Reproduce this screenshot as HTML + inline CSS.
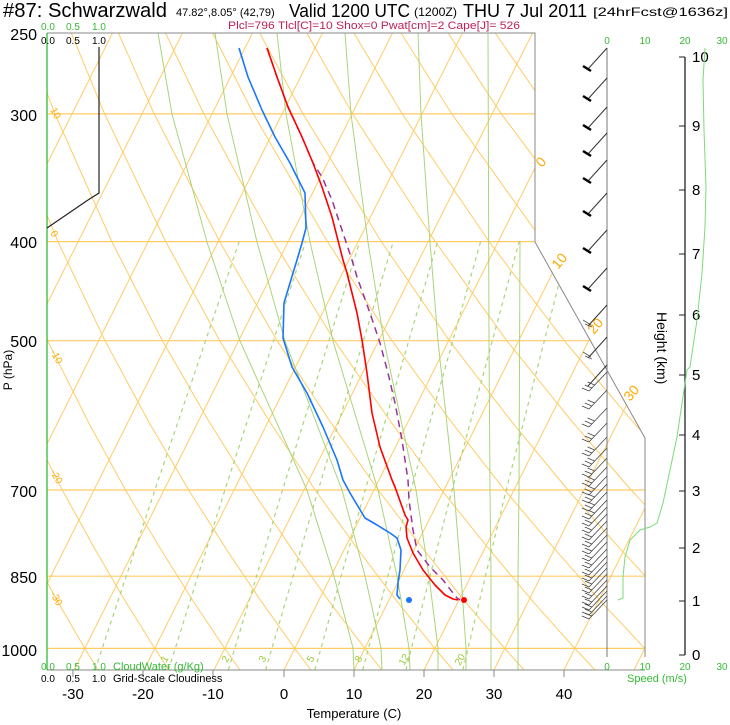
<!DOCTYPE html>
<html><head><meta charset="utf-8">
<style>
html,body{margin:0;padding:0;background:#fff;}
svg{display:block;font-family:"Liberation Sans",Arial,sans-serif;}
</style></head>
<body>
<svg width="730" height="725" viewBox="0 0 730 725" xmlns="http://www.w3.org/2000/svg">
<defs>
<clipPath id="cp"><polygon points="47,33 535,33 535,242 645,438 645,670 47,670"/></clipPath>
</defs>
<g clip-path="url(#cp)" fill="none">
<g stroke="#ffcc66" stroke-width="1.2">
<line x1="47" y1="113.9" x2="645" y2="113.9"/><line x1="47" y1="241.6" x2="645" y2="241.6"/><line x1="47" y1="340.7" x2="645" y2="340.7"/><line x1="47" y1="490" x2="645" y2="490"/><line x1="47" y1="576.2" x2="645" y2="576.2"/><line x1="47" y1="648.4" x2="645" y2="648.4"/>
</g>
<g stroke="#ffcc66" stroke-width="1">
<line x1="-556" y1="670" x2="-237.5" y2="33"/><line x1="-486" y1="670" x2="-167.5" y2="33"/><line x1="-416" y1="670" x2="-97.5" y2="33"/><line x1="-346" y1="670" x2="-27.5" y2="33"/><line x1="-276" y1="670" x2="42.5" y2="33"/><line x1="-206" y1="670" x2="112.5" y2="33"/><line x1="-136" y1="670" x2="182.5" y2="33"/><line x1="-66" y1="670" x2="252.5" y2="33"/><line x1="4" y1="670" x2="322.5" y2="33"/><line x1="74" y1="670" x2="392.5" y2="33"/><line x1="144" y1="670" x2="462.5" y2="33"/><line x1="214" y1="670" x2="532.5" y2="33"/><line x1="284" y1="670" x2="602.5" y2="33"/><line x1="354" y1="670" x2="672.5" y2="33"/><line x1="424" y1="670" x2="742.5" y2="33"/><line x1="494" y1="670" x2="812.5" y2="33"/><line x1="564" y1="670" x2="882.5" y2="33"/><line x1="634" y1="670" x2="952.5" y2="33"/>
</g>
<g stroke="#ffcc66" stroke-width="1">
<polyline points="97.9,670 84.8,648.4 57.7,601.6 29.3,549.3 -0.9,490 -32.9,421.6"/>
<polyline points="168.9,670 154.8,648.4 125.6,601.6 95,549.3 62.3,490 27.6,421.6 -9.8,340.7 -49.9,241.6"/>
<polyline points="239.9,670 224.8,648.4 193.5,601.6 160.7,549.3 125.5,490 88.1,421.6 47.6,340.7 4,241.6 -44.2,113.9"/>
<polyline points="310.9,670 294.8,648.4 261.4,601.6 226.4,549.3 188.7,490 148.6,421.6 105,340.7 57.9,241.6 5.4,113.9 -22.9,33"/>
<polyline points="381.9,670 364.8,648.4 329.3,601.6 292.1,549.3 251.9,490 209.1,421.6 162.4,340.7 111.8,241.6 55,113.9 24.2,33"/>
<polyline points="452.9,670 434.8,648.4 397.2,601.6 357.8,549.3 315.1,490 269.6,421.6 219.8,340.7 165.7,241.6 104.6,113.9 71.3,33"/>
<polyline points="523.9,670 504.8,648.4 465.1,601.6 423.5,549.3 378.3,490 330.1,421.6 277.2,340.7 219.6,241.6 154.2,113.9 118.4,33"/>
<polyline points="594.9,670 574.8,648.4 533,601.6 489.2,549.3 441.5,490 390.6,421.6 334.6,340.7 273.5,241.6 203.8,113.9 165.5,33"/>
<polyline points="665.9,670 644.8,648.4 600.9,601.6 554.9,549.3 504.7,490 451.1,421.6 392,340.7 327.4,241.6 253.4,113.9 212.6,33"/>
<polyline points="736.9,670 714.8,648.4 668.8,601.6 620.6,549.3 567.9,490 511.6,421.6 449.4,340.7 381.3,241.6 303,113.9 259.7,33"/>
<polyline points="807.9,670 784.8,648.4 736.7,601.6 686.3,549.3 631.1,490 572.1,421.6 506.8,340.7 435.2,241.6 352.6,113.9 306.8,33"/>
<polyline points="878.9,670 854.8,648.4 804.6,601.6 752,549.3 694.3,490 632.6,421.6 564.2,340.7 489.1,241.6 402.2,113.9 353.9,33"/>
<polyline points="949.9,670 924.8,648.4 872.5,601.6 817.7,549.3 757.5,490 693.1,421.6 621.6,340.7 543,241.6 451.8,113.9 401,33"/>
<polyline points="1020.9,670 994.8,648.4 940.4,601.6 883.4,549.3 820.7,490 753.6,421.6 679,340.7 596.9,241.6 501.4,113.9 448.1,33"/>
<polyline points="1091.9,670 1064.8,648.4 1008.3,601.6 949.1,549.3 883.9,490 814.1,421.6 736.4,340.7 650.8,241.6 551,113.9 495.2,33"/>
</g>
<!-- moist adiabats -->
<g stroke="#aad47a" stroke-width="1">
<polyline points="354,670 353,648 334,576 307,490 240,341 207,242 172,114 158,33"/>
<polyline points="382,670 381,648 365,576 342,490 285,341 257,242 227,114 215,33"/>
<polyline points="410,670 409,648 397,576 378,490 333,341 310,242 286,114 277,33"/>
<polyline points="438,670 438,648 429,576 416,490 384,341 368,242 351,114 345,33"/>
<polyline points="466,670 466,648 461,576 454,490 438,341 430,242 421,114 418,33"/>
<polyline points="491,670 491,576 490,490 489,341 488,33"/>
<polyline points="518,670 518,576 519,490 520,241"/>
</g>
<g stroke="#aad47a" stroke-width="1.2" stroke-dasharray="4,4">
<polyline points="95,670 154.9,490 239.2,241.6"/>
<polyline points="168.5,670 224.9,490 305.7,241.6"/>
<polyline points="228.3,670 282.5,490 359.7,241.6"/>
<polyline points="265.6,670 318.2,490 393.3,241.6"/>
<polyline points="314.9,670 365.2,490 437.7,241.6"/>
<polyline points="362.7,670 410.9,490 480.6,241.6"/>
<polyline points="405.9,670 452.1,490 519.1,241.6"/>
<polyline points="462.8,670 506.2,490 569.7,241.6"/>
</g>
</g>
<polyline points="47,33 535,33 535,242 645,438 645,657" fill="none" stroke="#888" stroke-width="1"/>
<line x1="47" y1="670" x2="645" y2="670" stroke="#888" stroke-width="1"/>
<line x1="47" y1="33" x2="47" y2="670" stroke="#33bb33" stroke-width="1.3"/>
<line x1="607" y1="48" x2="607" y2="657" stroke="#777" stroke-width="1"/>
<line x1="685" y1="57" x2="685" y2="655" stroke="#222" stroke-width="1.3"/>
<g stroke="#888"><line x1="73" y1="670" x2="73" y2="677"/><line x1="143" y1="670" x2="143" y2="677"/><line x1="213" y1="670" x2="213" y2="677"/><line x1="284" y1="670" x2="284" y2="677"/><line x1="354" y1="670" x2="354" y2="677"/><line x1="424" y1="670" x2="424" y2="677"/><line x1="494" y1="670" x2="494" y2="677"/><line x1="564" y1="670" x2="564" y2="677"/></g>
<polyline points="99,47 99,193 88,200 47,228" fill="none" stroke="#222" stroke-width="1.2"/>
<g font-size="10" fill="#99cc33">
<text transform="translate(166,663) rotate(-60)">1</text><text transform="translate(227,663) rotate(-60)">2</text><text transform="translate(264,663) rotate(-60)">3</text><text transform="translate(312,663) rotate(-60)">5</text><text transform="translate(360,663) rotate(-60)">8</text><text transform="translate(404,666) rotate(-60)">12</text><text transform="translate(460,666) rotate(-60)">20</text>
</g>
<g font-size="10" fill="#ffaa00">
<text transform="translate(50,110) rotate(60)">10</text><text transform="translate(50,233) rotate(60)">0</text><text transform="translate(50,352) rotate(60)">-10</text><text transform="translate(50,472) rotate(60)">-20</text><text transform="translate(50,594) rotate(60)">-30</text>
</g>
<g font-size="14" fill="#ffaa00">
<text transform="translate(542,168) rotate(-50)">0</text><text transform="translate(558,270) rotate(-50)">10</text><text transform="translate(594,335) rotate(-50)">20</text><text transform="translate(630,402) rotate(-50)">30</text>
</g>
<g stroke="#333" stroke-width="1">
<line x1="607" y1="48" x2="588" y2="69"/><line x1="607" y1="78" x2="588" y2="99"/><line x1="607" y1="107" x2="588" y2="128"/><line x1="607" y1="133" x2="588" y2="154"/><line x1="607" y1="160" x2="588" y2="181"/><line x1="607" y1="193" x2="588" y2="214"/><line x1="607" y1="230" x2="588" y2="251"/><line x1="607" y1="268" x2="588" y2="289"/><line x1="607" y1="305" x2="588" y2="326"/><line x1="607" y1="337" x2="588" y2="358"/><line x1="607" y1="365" x2="588" y2="386"/>
</g>
<g stroke="#000" stroke-width="2.5">
<line x1="583" y1="66" x2="591" y2="71"/><line x1="583" y1="96" x2="591" y2="101"/><line x1="583" y1="125" x2="591" y2="130"/><line x1="583" y1="151" x2="591" y2="156"/><line x1="583" y1="178" x2="591" y2="183"/><line x1="583" y1="211" x2="591" y2="216"/><line x1="583" y1="248" x2="591" y2="253"/><line x1="583" y1="286" x2="591" y2="291"/>
</g>
<g stroke="#555" stroke-width="0.8">
<line x1="583" y1="320" x2="591" y2="325"/><line x1="585" y1="324" x2="592" y2="327"/>
<line x1="583" y1="352" x2="591" y2="357"/><line x1="585" y1="356" x2="592" y2="359"/>
</g>
<g stroke="#444" stroke-width="0.8" fill="none">
<path d="M607 372L589 391M589 391l-7 -3M591.8 388l-7 -3M594.6 385l-7 -3"/>
<path d="M607 390L589 409M589 409l-7 -3M591.8 406l-7 -3M594.6 403l-7 -3"/>
<path d="M607 408L589 427M589 427l-7 -3M591.8 424l-7 -3M594.6 421l-7 -3"/>
<path d="M607 423L589 442M589 442l-7 -3M591.8 439l-7 -3M594.6 436l-7 -3"/>
<path d="M607 437L589 456M589 456l-7 -3M591.8 453l-7 -3M594.6 450l-7 -3"/>
<path d="M607 448L589 467M589 467l-7 -3M591.8 464l-7 -3M594.6 461l-7 -3"/>
<path d="M607 458L589 477M589 477l-7 -3M591.8 474l-7 -3M594.6 471l-7 -3"/>
<path d="M607 467L589 486M589 486l-7 -3M591.8 483l-7 -3M594.6 480l-7 -3"/>
<path d="M607 476L589 495M589 495l-7 -3M591.8 492l-7 -3M594.6 489l-7 -3"/>
<path d="M607 484L589 503M589 503l-7 -3M591.8 500l-7 -3M594.6 497l-7 -3"/>
<path d="M607 492L589 511M589 511l-7 -3M591.8 508l-7 -3M594.6 505l-7 -3"/>
<path d="M607 500L589 519M589 519l-7 -3M591.8 516l-7 -3M594.6 513l-7 -3"/>
<path d="M607 507L589 526M589 526l-7 -3M591.8 523l-7 -3"/>
<path d="M607 514L589 533M589 533l-7 -3M591.8 530l-7 -3"/>
<path d="M607 521L589 540M589 540l-7 -3M591.8 537l-7 -3"/>
<path d="M607 528L589 547M589 547l-7 -3M591.8 544l-7 -3"/>
<path d="M607 535L589 554M589 554l-7 -3M591.8 551l-7 -3"/>
<path d="M607 542L589 561M589 561l-7 -3M591.8 558l-7 -3"/>
<path d="M607 549L589 568M589 568l-7 -3M591.8 565l-7 -3"/>
<path d="M607 556L589 575M589 575l-7 -3M591.8 572l-7 -3"/>
<path d="M607 562L589 581M589 581l-7 -3M591.8 578l-7 -3"/>
<path d="M607 568L589 587M589 587l-7 -3M591.8 584l-7 -3"/>
<path d="M607 574L589 593M589 593l-7 -3M591.8 590l-7 -3"/>
<path d="M607 580L589 599M589 599l-7 -3M591.8 596l-7 -3"/>
<path d="M607 586L589 605M589 605l-7 -3M591.8 602l-7 -3"/>
<path d="M607 591L589 610M589 610l-7 -3M591.8 607l-7 -3"/>
<path d="M607 596L589 615M589 615l-7 -3M591.8 612l-7 -3"/>
<path d="M607 600L589 619M589 619l-7 -3M591.8 616l-7 -3"/>
</g>
<g fill="none" stroke-linejoin="round">
<polyline stroke="#993399" stroke-width="1.5" stroke-dasharray="7,5" points="267,48 277,77 288,107 302,137 313,163 322,177 332,200 342,230 352,260 357,277 370,313 380,343 388,373 395,403 402,440 408,480 409,500 413,530 417,550 430,567 443,580 453,593 457,598 460,600"/>
<polyline stroke="#ff0000" stroke-width="1.6" points="267,48 277,77 288,107 302,137 313,163 322,187 332,217 343,260 347,273 357,313 362,340 367,373 372,413 380,447 392,480 395,487 405,515 408,520 406,527 407,538 413,553 423,570 435,585 445,595 453,599 458,600"/>
<polyline stroke="#1a75ff" stroke-width="1.6" points="239,48 248,77 262,110 275,137 290,163 305,193 306,228 302,243 297,260 293,273 284,303 283,338 292,367 307,393 323,427 337,460 343,480 350,493 365,518 377,525 390,533 397,538 401,550 400,570 398,583 397,595 400,599"/>
</g>
<circle cx="464" cy="600" r="3" fill="#ff0000"/>
<circle cx="409" cy="600" r="3" fill="#1a75ff"/>
<text x="3" y="17" font-size="20" textLength="164" lengthAdjust="spacingAndGlyphs">#87: Schwarzwald</text>
<text x="176" y="16" font-size="11">47.82°,8.05° (42,79)</text>
<text x="289" y="17" font-size="18" textLength="121" lengthAdjust="spacingAndGlyphs">Valid 1200 UTC</text>
<text x="414" y="16" font-size="12" textLength="43" lengthAdjust="spacingAndGlyphs">(1200Z)</text>
<text x="463" y="17" font-size="18" textLength="124" lengthAdjust="spacingAndGlyphs">THU 7 Jul 2011</text>
<text x="593" y="16" font-size="12" textLength="135" lengthAdjust="spacingAndGlyphs">[24hrFcst@1636z]</text>
<text x="228" y="29" font-size="11" fill="#c0205a" textLength="292" lengthAdjust="spacingAndGlyphs">Plcl=796 Tlcl[C]=10 Shox=0 Pwat[cm]=2 Cape[J]= 526</text>
<g font-size="10" fill="#33bb33"><text x="41" y="30">0.0</text><text x="66" y="30">0.5</text><text x="92" y="30">1.0</text></g>
<g font-size="10" fill="#000"><text x="41" y="44">0.0</text><text x="66" y="44">0.5</text><text x="92" y="44">1.0</text></g>
<g font-size="10" fill="#33bb33"><text x="41" y="670">0.0</text><text x="66" y="670">0.5</text><text x="92" y="670">1.0</text><text x="113" y="670" font-size="11">CloudWater (g/Kg)</text></g>
<g font-size="10" fill="#000"><text x="41" y="682">0.0</text><text x="66" y="682">0.5</text><text x="92" y="682">1.0</text><text x="113" y="682" font-size="11">Grid-Scale Cloudiness</text></g>
<g font-size="16" text-anchor="end"><text x="37" y="40">250</text><text x="37" y="121">300</text><text x="37" y="248">400</text><text x="37" y="347">500</text><text x="37" y="497">700</text><text x="37" y="583">850</text><text x="37" y="656">1000</text></g>
<text transform="translate(12,370) rotate(-90)" font-size="12" text-anchor="middle">P (hPa)</text>
<g font-size="15" text-anchor="middle"><text x="73" y="699">-30</text><text x="143" y="699">-20</text><text x="213" y="699">-10</text><text x="284" y="699">0</text><text x="354" y="699">10</text><text x="424" y="699">20</text><text x="494" y="699">30</text><text x="564" y="699">40</text></g>
<text x="354" y="718" font-size="13" text-anchor="middle">Temperature (C)</text>
<g font-size="15"><text x="692" y="62">10</text><text x="692" y="131">9</text><text x="692" y="195">8</text><text x="692" y="259">7</text><text x="692" y="320">6</text><text x="692" y="380">5</text><text x="692" y="440">4</text><text x="692" y="496">3</text><text x="692" y="553">2</text><text x="692" y="606">1</text><text x="692" y="660">0</text></g>
<g stroke="#222" stroke-width="1"><line x1="679" y1="57" x2="685" y2="57"/><line x1="679" y1="126" x2="685" y2="126"/><line x1="679" y1="190" x2="685" y2="190"/><line x1="679" y1="254" x2="685" y2="254"/><line x1="679" y1="315" x2="685" y2="315"/><line x1="679" y1="375" x2="685" y2="375"/><line x1="679" y1="435" x2="685" y2="435"/><line x1="679" y1="491" x2="685" y2="491"/><line x1="679" y1="548" x2="685" y2="548"/><line x1="679" y1="601" x2="685" y2="601"/><line x1="679" y1="655" x2="685" y2="655"/></g>
<text transform="translate(657,312) rotate(90)" font-size="14">Height (km)</text>
<g font-size="10" fill="#33bb33" text-anchor="middle"><text x="607" y="44">0</text><text x="645" y="44">10</text><text x="685" y="44">20</text><text x="722" y="44">30</text>
<text x="607" y="670">0</text><text x="645" y="670">10</text><text x="685" y="670">20</text><text x="722" y="670">30</text><text x="657" y="682" font-size="11">Speed (m/s)</text></g>
<polyline fill="none" stroke="#77dd77" stroke-width="1" points="705,48 703,80 704,130 706,187 705,227 702,273 697,320 690,367 687,370 684,390 677,437 670,470 663,503 657,523 650,527 640,530 630,540 625,557 623,577 623,598 618,600"/>
</svg>
</body></html>
